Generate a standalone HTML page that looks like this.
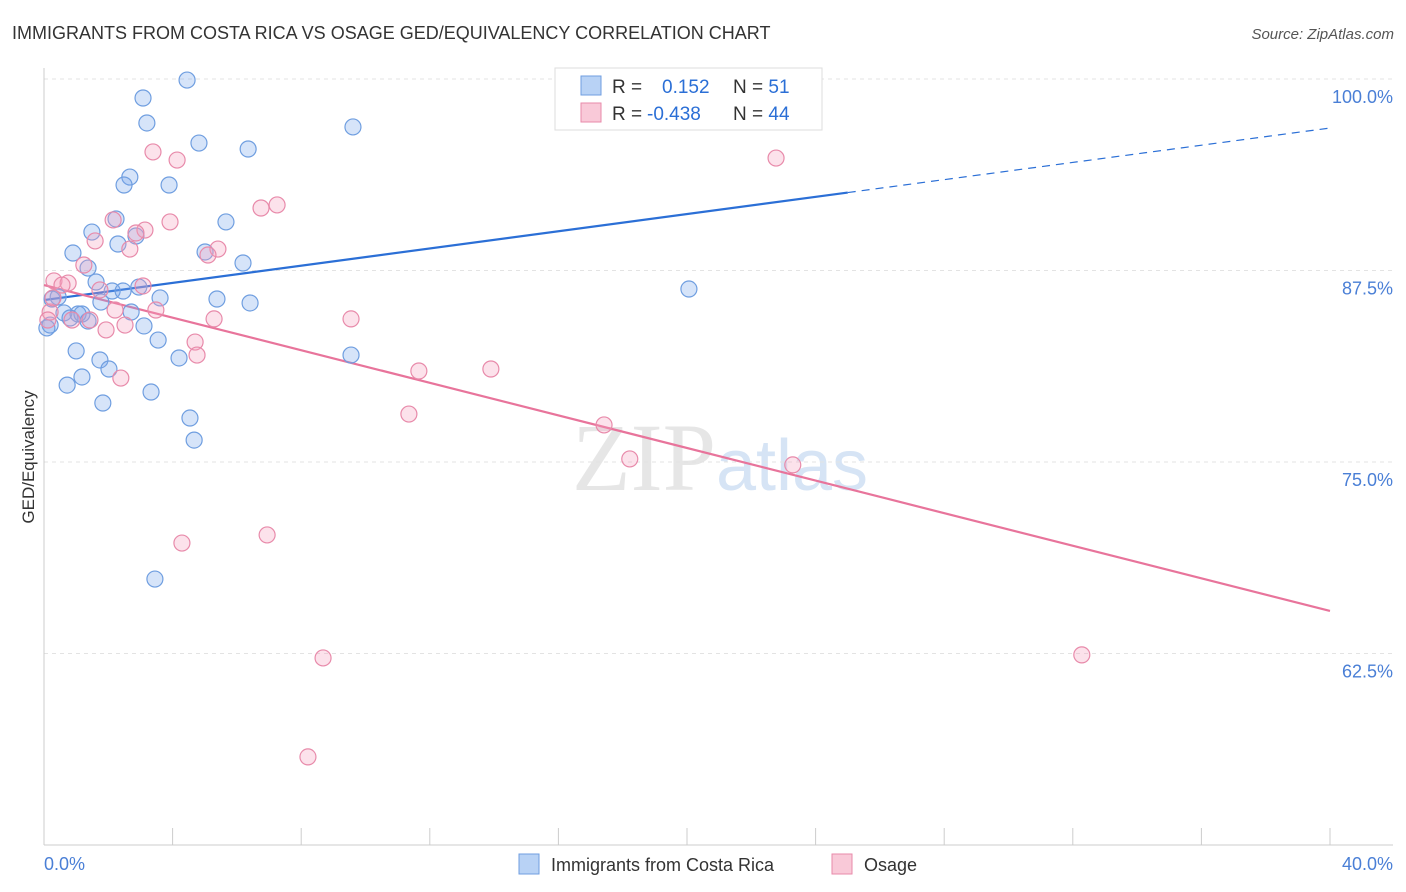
<!DOCTYPE html>
<html><head><meta charset="utf-8"><style>
body{margin:0;background:#fff;font-family:"Liberation Sans",sans-serif;}
svg{display:block}
</style></head><body>
<svg id="chart" width="1406" height="892" xmlns="http://www.w3.org/2000/svg">
<text x="12" y="39" font-size="18" fill="#333">IMMIGRANTS FROM COSTA RICA VS OSAGE GED/EQUIVALENCY CORRELATION CHART</text>
<text x="1394" y="39" font-size="15" fill="#555" text-anchor="end" font-style="italic">Source: ZipAtlas.com</text>
<text x="720" y="490" font-size="96" text-anchor="middle" fill="#e6e6e6" font-family="Liberation Serif,serif">ZIP<tspan fill="#d6e4f5" font-family="Liberation Sans,sans-serif" font-size="72">atlas</tspan></text>
<g id="grid"></g>
<line x1="44" y1="68" x2="44" y2="845" stroke="#ccc"/>
<line x1="44" y1="845" x2="1393" y2="845" stroke="#ccc"/>
<text transform="translate(34,457) rotate(-90)" font-size="17" fill="#333" text-anchor="middle">GED/Equivalency</text>
<text x="44" y="870" font-size="18" fill="#4a7fd6">0.0%</text>
<text x="1393" y="870" font-size="18" fill="#4a7fd6" text-anchor="end">40.0%</text>
<g id="lines"></g>
<g id="points"></g>
<g>
<rect x="555" y="68" width="267" height="62" fill="#fff" stroke="#ddd"/>
<rect x="581" y="76" width="20" height="19" fill="#b8d2f5" stroke="#6f9ee0"/>
<rect x="581" y="103" width="20" height="19" fill="#f9c9d8" stroke="#e88aaa"/>
<text x="612" y="93" font-size="19" fill="#333">R = <tspan fill="#2b6fd6" x="662">0.152</tspan><tspan x="733">N = </tspan><tspan fill="#2b6fd6">51</tspan></text>
<text x="612" y="120" font-size="19" fill="#333">R = <tspan fill="#2b6fd6" x="647">-0.438</tspan><tspan x="733">N = </tspan><tspan fill="#2b6fd6">44</tspan></text>
</g>
<g>
<rect x="519" y="854" width="20" height="20" fill="#b8d2f5" stroke="#6f9ee0"/>
<text x="551" y="871" font-size="18" fill="#333">Immigrants from Costa Rica</text>
<rect x="832" y="854" width="20" height="20" fill="#f9c9d8" stroke="#e88aaa"/>
<text x="864" y="871" font-size="18" fill="#333">Osage</text>
</g>
</svg>
<script>
const yTicks=[100,87.5,75,62.5];
const blueX=[4.45,3.08,3.20,9.61,4.82,6.35,2.67,2.49,3.89,2.24,5.66,1.49,2.86,2.30,0.90,5.01,6.19,1.37,1.62,2.12,2.46,2.95,20.06,0.44,0.25,3.61,1.77,5.38,6.41,0.62,1.06,1.18,0.81,2.71,1.37,0.19,0.09,3.11,3.55,1.00,1.74,4.20,9.55,2.02,1.18,0.72,3.33,1.83,4.54,4.67,3.45];
const blueY=[99.93,98.76,97.13,96.87,95.82,95.43,93.60,93.08,93.08,90.86,90.67,90.01,89.75,89.23,88.64,88.71,87.99,87.66,86.75,86.16,86.16,86.42,86.29,85.77,85.64,85.71,85.44,85.64,85.38,84.73,84.66,84.66,84.40,84.79,84.20,83.94,83.75,83.88,82.96,82.25,81.66,81.79,81.98,81.07,80.55,80.02,79.57,78.85,77.87,76.43,67.36];
const pinkX=[22.77,3.39,4.14,7.25,6.75,3.92,2.15,3.14,2.86,1.59,2.67,5.41,5.10,1.24,0.31,0.75,0.56,3.08,1.74,2.21,3.48,1.43,0.87,5.29,9.55,2.52,1.93,4.70,4.76,2.39,11.66,13.90,11.35,17.42,18.22,23.29,4.29,6.94,8.68,32.28,8.21,0.19,0.12,0.28];
const pinkY=[94.84,95.24,94.71,91.78,91.58,90.67,90.80,90.14,89.95,89.43,88.90,88.90,88.51,87.86,86.82,86.68,86.55,86.49,86.23,84.92,84.92,84.27,84.27,84.34,84.34,83.94,83.62,82.83,81.98,80.48,80.94,81.07,78.13,77.42,75.20,74.81,69.71,70.24,62.21,62.41,55.75,84.79,84.27,85.71];
const blueTrend=[85.57,96.80];
const pinkTrend=[86.55,65.28];
const blueSolidEnd=25.0;
const xTickVals=[0,4,8,12,16,20,24,28,32,36,40];

const NS="http://www.w3.org/2000/svg";
const sx=v=>44+v/40*1286;
const sy=v=>79+(100-v)/12.5*191.5;
function mk(tag,attrs,parent){const e=document.createElementNS(NS,tag);for(const k in attrs)e.setAttribute(k,attrs[k]);document.getElementById(parent).appendChild(e);return e;}
yTicks.forEach(t=>{
 const l=mk('line',{x1:44,x2:1393,y1:sy(t),y2:sy(t),stroke:'#e3e3e3','stroke-dasharray':'4,4'},'grid');
 
 
 const tx=mk('text',{x:1393,y:sy(t)+24,'font-size':18,fill:'#4a7fd6','text-anchor':'end'},'grid');
 tx.textContent=t.toFixed(1)+'%';
 
 
});
xTickVals.forEach(t=>{
 const l=mk('line',{x1:sx(t),x2:sx(t),y1:828,y2:845,stroke:'#ccc'},'grid');
 
 
});
function pts(xs,ys,fill,stroke,name){
 xs.forEach((x,i)=>{
  const c=mk('circle',{cx:sx(x),cy:sy(ys[i]),r:8,fill:fill,stroke:stroke,'stroke-width':1.2},'points');
  
  
 });
}
pts(blueX,blueY,'rgba(120,165,235,0.3)','#6f9ee0','point-costa-rica');
pts(pinkX,pinkY,'rgba(245,160,190,0.3)','#e88aaa','point-osage');
const by=x=>blueTrend[0]+(blueTrend[1]-blueTrend[0])*x/40;
let l1=mk('line',{x1:sx(0),y1:sy(by(0)),x2:sx(blueSolidEnd),y2:sy(by(blueSolidEnd)),stroke:'#2b6fd6','stroke-width':2.2},'lines');


let l2=mk('line',{x1:sx(blueSolidEnd),y1:sy(by(blueSolidEnd)),x2:sx(40),y2:sy(by(40)),stroke:'#2b6fd6','stroke-width':1.2,'stroke-dasharray':'8,6'},'lines');


let l3=mk('line',{x1:sx(0),y1:sy(pinkTrend[0]),x2:sx(40),y2:sy(pinkTrend[1]),stroke:'#e8749b','stroke-width':2.2},'lines');


</script>
</body></html>
